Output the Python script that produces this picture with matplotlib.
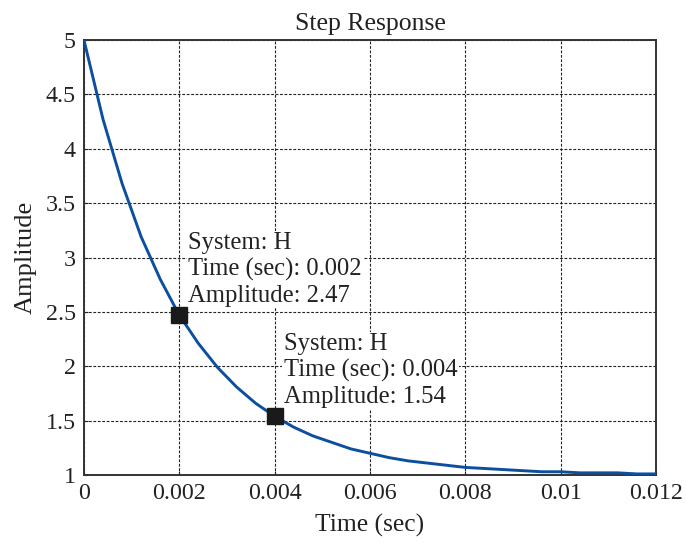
import matplotlib
matplotlib.use('Agg')
import matplotlib.pyplot as plt

# step response samples
time = [0, 0.0004, 0.0008, 0.0012, 0.0016, 0.002, 0.0024, 0.0028, 0.0032,
        0.0036, 0.004, 0.0044, 0.0048, 0.0052, 0.0056, 0.006, 0.0064, 0.0068,
        0.0072, 0.0076, 0.008, 0.0084, 0.0088, 0.0092, 0.0096, 0.01, 0.0104,
        0.0108, 0.0112, 0.0116, 0.012]
amplitude = [5.0, 4.27, 3.68, 3.19, 2.80, 2.47, 2.21, 1.99, 1.81, 1.66, 1.54,
             1.44, 1.36, 1.30, 1.24, 1.20, 1.16, 1.13, 1.11, 1.09, 1.07, 1.06,
             1.05, 1.04, 1.03, 1.03, 1.02, 1.02, 1.02, 1.01, 1.01]

marked_t = [0.002, 0.004]
marked_a = [2.47, 1.54]

xticks = [0, 0.002, 0.004, 0.006, 0.008, 0.01, 0.012]
xticklabels = ['0', '0.002', '0.004', '0.006', '0.008', '0.01', '0.012']
yticks = [1, 1.5, 2, 2.5, 3, 3.5, 4, 4.5, 5]
yticklabels = ['1', '1.5', '2', '2.5', '3', '3.5', '4', '4.5', '5']

plt.rcParams['font.family'] = ['Liberation Serif', 'DejaVu Serif']

fig = plt.figure(figsize=(6.86, 5.43), dpi=100)
ax = fig.add_axes([0.1224, 0.1252, 0.8339, 0.8011])

ax.plot(time, amplitude, color='#0b4f9e', lw=2.1, zorder=3)

ax.set_xlim(0, 0.012)
ax.set_ylim(1, 5)
ax.set_xticks(xticks)
ax.set_xticklabels(xticklabels)
ax.set_yticks(yticks)
ax.set_yticklabels(yticklabels)
ax.tick_params(labelsize=17.3, direction='in', length=3, pad=6,
               colors='#222222')
ax.grid(True, color='#222222', linestyle=(0, (2.5, 1.5)), lw=0.8)
for s in ax.spines.values():
    s.set_color('#333333')
    s.set_linewidth(1.4)

ax.set_title('Step Response', fontsize=18.5, pad=7, color='#222222')
ax.set_xlabel('Time (sec)', fontsize=18.4, color='#222222', labelpad=7)
ax.set_ylabel('Amplitude', fontsize=19, color='#222222', labelpad=6)

for t, a in zip(marked_t, marked_a):
    ax.plot(t, a, 's', color='#1a1a1a', ms=11, zorder=5)
    ax.annotate('System: H\nTime (sec): %g\nAmplitude: %.2f' % (t, a),
                xy=(t, a), xytext=(6.5, 6), textcoords='offset points',
                fontsize=17.7, color='#222222', ha='left', va='bottom',
                linespacing=1.22, zorder=4,
                bbox=dict(boxstyle='square,pad=0.05', fc='white', ec='none'))

fig.savefig('out.png', dpi=100)
